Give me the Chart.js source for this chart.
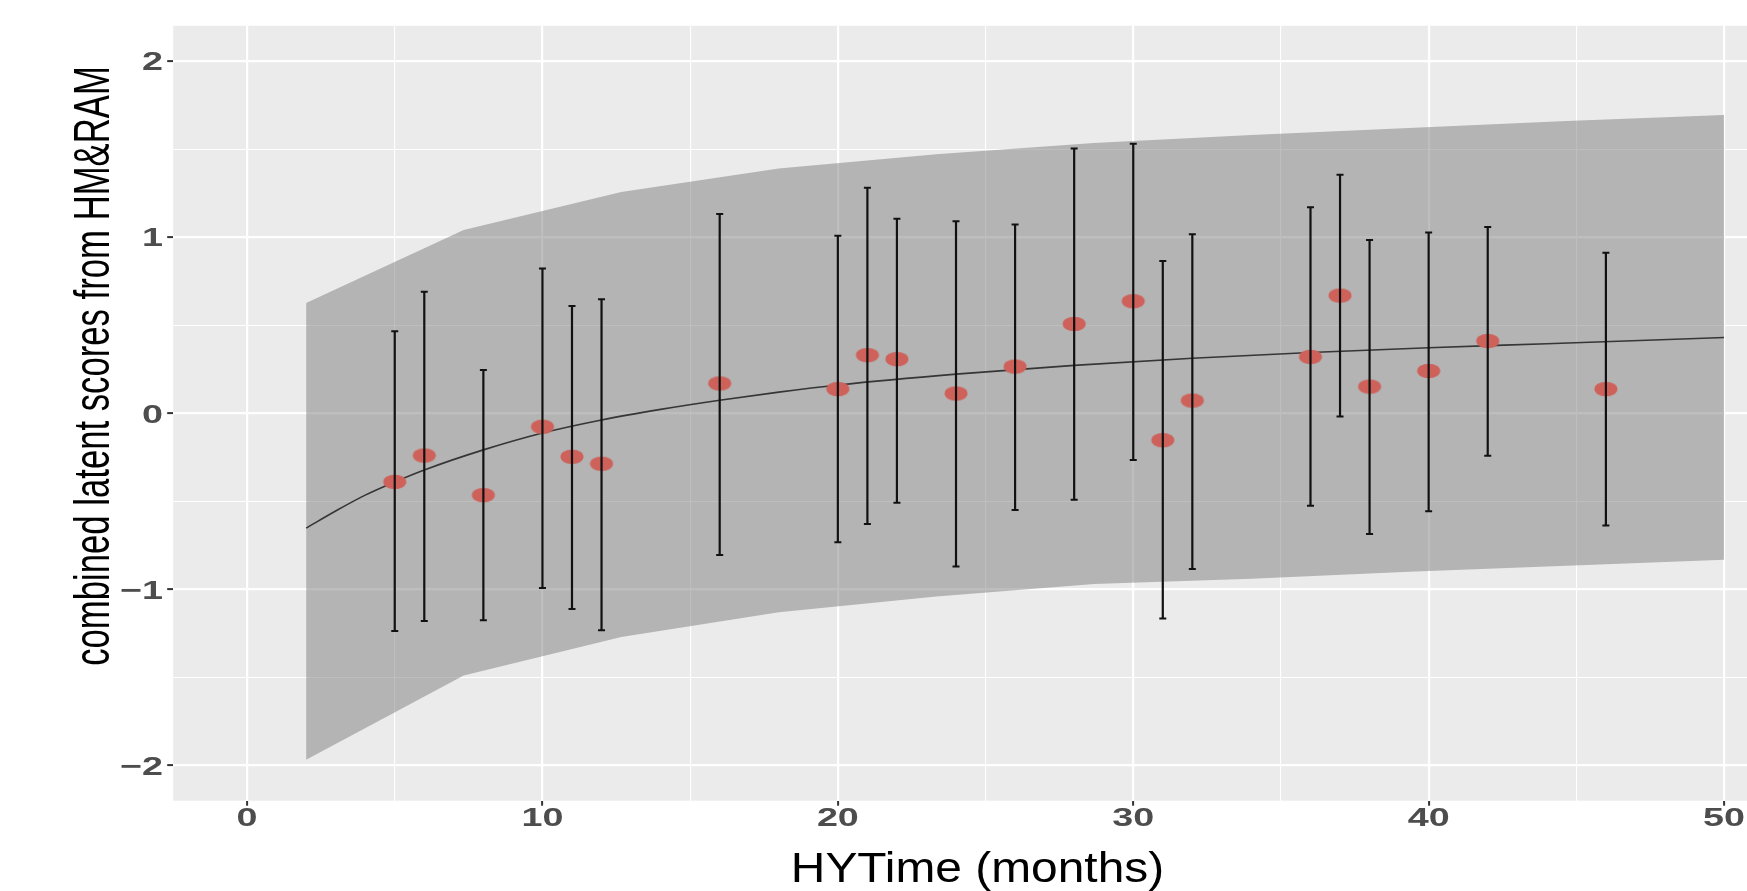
<!DOCTYPE html>
<html><head><meta charset="utf-8">
<script src="https://cdn.jsdelivr.net/npm/chart.js@4.4.1/dist/chart.umd.min.js"></script>
<style>
html,body{margin:0;padding:0;background:#fff;overflow:hidden;width:1747px;height:891px;}
#wrap{position:absolute;left:0;top:0;width:1800px;height:891px;}
</style></head><body>
<div id="wrap"><canvas id="c" width="1800" height="891"></canvas></div>
<script>
// ---- data ----
const xMajorTicks = [0, 10, 20, 30, 40, 50];
const xMinorTicks = [5, 15, 25, 35, 45];
const yMajorTicks = [-2, -1, 0, 1, 2];
const yMinorTicks = [-1.5, -0.5, 0.5, 1.5];

const monthsObserved = [5, 6, 8, 10, 11, 12, 16, 20, 21, 22, 24, 26, 28, 30, 31, 32, 36, 37, 38, 40, 42, 46];
const scoreObserved  = [-0.39, -0.24, -0.465, -0.077, -0.247, -0.287, 0.169, 0.137, 0.33, 0.307, 0.112, 0.265, 0.507, 0.636, -0.153, 0.072, 0.32, 0.668, 0.151, 0.24, 0.41, 0.137];
const scoreLower     = [-1.237, -1.18, -1.176, -0.992, -1.111, -1.232, -0.805, -0.733, -0.629, -0.508, -0.87, -0.55, -0.491, -0.266, -1.166, -0.884, -0.525, -0.019, -0.686, -0.557, -0.242, -0.637];
const scoreUpper     = [0.465, 0.69, 0.246, 0.822, 0.609, 0.647, 1.132, 1.008, 1.28, 1.105, 1.09, 1.072, 1.504, 1.53, 0.864, 1.016, 1.169, 1.354, 0.984, 1.027, 1.057, 0.912];

const fitMonths = [2, 3, 4, 5, 6, 8, 10, 12, 14, 16, 18, 20, 24, 28, 32, 36, 40, 44, 50];
const fitScore  = [-0.652, -0.555, -0.465, -0.39, -0.322, -0.208, -0.112, -0.038, 0.022, 0.074, 0.12, 0.16, 0.222, 0.272, 0.312, 0.345, 0.372, 0.395, 0.43];

const bandMonths = [2, 7.333, 12.667, 18, 23.333, 28.667, 34, 39.333, 44.667, 50];
const bandUpper  = [0.626, 1.04, 1.257, 1.39, 1.47, 1.535, 1.58, 1.62, 1.66, 1.694];
const bandLower  = [-1.967, -1.489, -1.27, -1.13, -1.04, -0.97, -0.94, -0.9, -0.866, -0.832];

const xTitle = 'HYTime (months)';
const yTitle = 'combined latent scores from HM&RAM';

// ---- helpers ----
const fmt = v => (v < 0 ? '\u2212' + Math.abs(v) : String(v));
const xy = (xs, ys) => xs.map((x, i) => ({x: x, y: ys[i]}));

const barData = [];
monthsObserved.forEach((x, i) => {
  barData.push({x: x, y: scoreLower[i]}, {x: x, y: scoreUpper[i]}, {x: x, y: null});
});
const capData = [];
monthsObserved.forEach((x, i) => {
  capData.push({x: x, y: scoreLower[i]}, {x: x, y: scoreUpper[i]});
});

const dot = document.createElement('canvas');
dot.width = 26; dot.height = 18;
const g = dot.getContext('2d');
g.fillStyle = 'rgb(206,98,91)';
g.beginPath(); g.ellipse(13, 9, 11.5, 7.3, 0, 0, Math.PI * 2); g.fill();

const panelBg = {
  id: 'panelBg',
  beforeDraw(chart) {
    const a = chart.chartArea, ctx = chart.ctx;
    ctx.save();
    ctx.fillStyle = '#EBEBEB';
    ctx.fillRect(a.left, a.top, a.right - a.left, a.bottom - a.top);
    ctx.restore();
  }
};

const texts = {
  id: 'texts',
  afterDraw(chart) {
    const ctx = chart.ctx, xs = chart.scales.x, ys = chart.scales.y;
    ctx.save();
    ctx.fillStyle = '#4D4D4D';
    ctx.font = 'bold 26px "Liberation Sans", Arial, sans-serif';
    ctx.textBaseline = 'alphabetic';
    xMajorTicks.forEach(v => {
      const px = xs.getPixelForValue(v);
      ctx.save(); ctx.translate(px, 826); ctx.scale(1.45, 1);
      ctx.textAlign = 'center'; ctx.fillText(fmt(v), 0, 0); ctx.restore();
    });
    yMajorTicks.forEach(v => {
      const py = ys.getPixelForValue(v);
      ctx.save(); ctx.translate(163, py + 9.3); ctx.scale(1.45, 1);
      ctx.textAlign = 'right'; ctx.fillText(fmt(v), 0, 0); ctx.restore();
    });
    ctx.fillStyle = '#000';
    ctx.font = '42px "Liberation Sans", Arial, sans-serif';
    ctx.save(); ctx.translate(977.5, 881.5); ctx.scale(1.14, 1);
    ctx.textAlign = 'center'; ctx.fillText(xTitle, 0, 0); ctx.restore();
    ctx.font = '50px "Liberation Sans", Arial, sans-serif';
    ctx.save(); ctx.translate(109, 366); ctx.rotate(-Math.PI / 2); ctx.scale(0.694, 1);
    ctx.textAlign = 'center'; ctx.fillText(yTitle, 0, 0); ctx.restore();
    ctx.restore();
  }
};

const isMajorX = v => xMajorTicks.includes(v);
const isMajorY = v => yMajorTicks.includes(v);

new Chart(document.getElementById('c'), {
  type: 'line',
  data: {
    datasets: [
      { type: 'scatter', data: capData, pointStyle: 'line', pointRadius: 3.5, pointBorderWidth: 2,
        pointBorderColor: '#111', borderColor: '#111', order: 1 },
      { type: 'line', data: barData, borderColor: '#111', borderWidth: 2.2, pointRadius: 0,
        spanGaps: false, fill: false, order: 2 },
      { type: 'scatter', data: xy(monthsObserved, scoreObserved), pointStyle: dot, pointRadius: 11, order: 3 },
      { type: 'line', data: xy(fitMonths, fitScore), borderColor: 'rgba(40,40,40,0.9)', borderWidth: 1.6,
        pointRadius: 0, cubicInterpolationMode: 'monotone', fill: false, order: 5 },
      { type: 'line', data: xy(bandMonths, bandUpper), borderColor: 'rgba(0,0,0,0)', borderWidth: 0,
        pointRadius: 0, tension: 0, fill: '+1', backgroundColor: 'rgba(125,125,125,0.5)', order: 10 },
      { type: 'line', data: xy(bandMonths, bandLower), borderColor: 'rgba(0,0,0,0)', borderWidth: 0,
        pointRadius: 0, tension: 0, fill: false, order: 11 }
    ]
  },
  options: {
    responsive: false, animation: false, devicePixelRatio: 1,
    layout: { autoPadding: false, padding: { top: 25.8, right: 2.1, left: 0, bottom: 0 } },
    plugins: { legend: { display: false }, tooltip: { enabled: false } },
    scales: {
      x: {
        type: 'linear', min: -2.5, max: 52.5,
        afterBuildTicks: s => { s.ticks = [...xMajorTicks, ...xMinorTicks].sort((a, b) => a - b).map(v => ({value: v})); },
        afterFit: s => { s.height = 90.3; },
        ticks: { display: false },
        border: { display: false },
        grid: {
          color: '#FFFFFF',
          lineWidth: c => (c.tick && isMajorX(c.tick.value)) ? 2.2 : 1.1,
          tickColor: c => (c.tick && isMajorX(c.tick.value)) ? '#333333' : 'rgba(0,0,0,0)',
          tickLength: 5, tickWidth: 2, drawTicks: true
        }
      },
      y: {
        type: 'linear', min: -2.2, max: 2.2,
        afterBuildTicks: s => { s.ticks = [...yMajorTicks, ...yMinorTicks].sort((a, b) => a - b).map(v => ({value: v})); },
        afterFit: s => { s.width = 173.2; },
        ticks: { display: false },
        border: { display: false },
        grid: {
          color: '#FFFFFF',
          lineWidth: c => (c.tick && isMajorY(c.tick.value)) ? 2.2 : 1.1,
          tickColor: c => (c.tick && isMajorY(c.tick.value)) ? '#333333' : 'rgba(0,0,0,0)',
          tickLength: 6, tickWidth: 2, drawTicks: true
        }
      }
    }
  },
  plugins: [panelBg, texts]
});
</script>
</body></html>
